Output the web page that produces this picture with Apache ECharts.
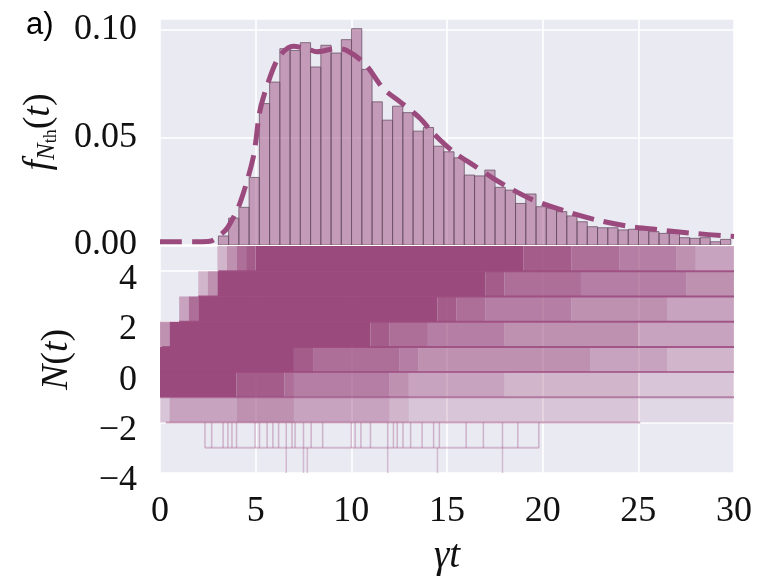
<!DOCTYPE html>
<html><head><meta charset="utf-8">
<script src="https://cdn.jsdelivr.net/npm/echarts@6/dist/echarts.min.js"></script>
<style>html,body{margin:0;padding:0;background:#fff}#c{width:757px;height:577px}</style>
</head><body><div id="c"></div>
<script>
// ---------- data ----------
const xTicks = [0, 5, 10, 15, 20, 25, 30];
const fTicks = [0, 0.05, 0.10];
const nTicks = [-4, -2, 0, 2, 4];

// histogram of first-passage times (50 bins)
const histStart = 3.05;
const histBinWidth = 0.5356;
const histHeights = [0.0042, 0.0125, 0.0175, 0.0314, 0.0657, 0.0757, 0.0912, 0.0904, 0.0940, 0.0827,
  0.0928, 0.0892, 0.0954, 0.1005, 0.0816, 0.0665, 0.0580, 0.0645, 0.0615, 0.0529,
  0.0546, 0.0459, 0.0433, 0.0405, 0.0325, 0.0321, 0.0348, 0.0268, 0.0255, 0.0193,
  0.0237, 0.0178, 0.0172, 0.0155, 0.0135, 0.0108, 0.0085, 0.0080, 0.0080, 0.0070,
  0.0073, 0.0070, 0.0062, 0.0054, 0.0054, 0.0034, 0.0031, 0.0034, 0.0015, 0.0026];

// theoretical density (dashed curve)
const curveT = [0, 1, 2, 2.6, 3.14, 3.55, 4.18, 4.88, 5.23, 5.75, 6.27, 6.97, 7.67, 8.2, 9.2, 9.76,
  10.7, 11.67, 12.55, 13.6, 14.29, 15.33, 16.38, 17.42, 18.47, 19.51, 21.26, 22.83, 24.4, 26.14, 27.88, 29.45, 30];
const curveF = [0.0015, 0.0015, 0.0015, 0.0017, 0.0046, 0.0083, 0.0195, 0.041, 0.0626, 0.078, 0.088, 0.0923,
  0.0912, 0.0898, 0.0912, 0.0904, 0.0843, 0.0727, 0.0665, 0.0588, 0.0518, 0.0433, 0.0371, 0.031, 0.0255,
  0.0209, 0.0155, 0.0116, 0.0088, 0.007, 0.0054, 0.0043, 0.004];

// trajectory density between level k and k+1, one digit (0-9) per 0.5 time bin
const bandBinWidth = 0.5;
const bandLevels = [4, 3, 2, 1, 0, -1, -2];
const bandDensity = [
  "000000357899999999999999999999999999998888877777666666554444",
  "000035999999999999999999999999999988777777776666666666655555",
  "004799999999999999999999999998877766666666655555555554444444",
  "599999999999999999999988777766666666555555555555554444444444",
  "999999999999998877777777766555555555555555555444444443333333",
  "999999998888876666666666554444444444333333333333332222222222",
  "244444445555554444444444332222222222222222222222221111111111"
];

// occupied integer levels: [level, tStart, tEnd, weight]
const levelLines = [
  [4, 3.05, 30, 0.9], [3, 2.0, 30, 0.9], [2, 1.0, 30, 0.9], [1, 0.1, 30, 0.85],
  [0, 0, 30, 0.75], [-1, 0, 30, 0.6], [-2, 0.3, 25.1, 0.45], [-3, 2.35, 19.8, 0.3]
];
// individual jumps in sparse bands
const jumpsBandM3 = [2.35, 2.7, 3.3, 3.55, 3.76, 4.0, 4.97, 5.2, 5.6, 5.9, 6.2, 6.6, 6.9, 7.06, 7.5, 7.9, 8.5,
  10.0, 10.2, 10.5, 11.0, 11.9, 12.2, 12.4, 12.7, 13.1, 13.7, 14.3, 14.6, 16.0, 16.9, 17.9, 18.7, 19.8];
const jumpsBandM4 = [6.6, 7.5, 7.7, 11.9, 14.5, 17.9];

// ---------- build ----------
const C = '#9b4a7e';
const serif = 'Liberation Serif';
const bandCells = [];
bandLevels.forEach((lv, k) => {
  const s = bandDensity[k];
  let i = 0;
  while (i < s.length) {
    let j = i;
    while (j < s.length && s[j] === s[i]) j++;
    const d = +s[i];
    if (d > 0) bandCells.push([i * bandBinWidth, j * bandBinWidth, lv, d / 9]);
    i = j;
  }
});
const jumpData = jumpsBandM3.map(t => [t, -3, 0.35]).concat(jumpsBandM4.map(t => [t, -4, 0.3]));
const histData = histHeights.map((h, i) => [histStart + i * histBinWidth, histStart + (i + 1) * histBinWidth, h]);

const fmtN = v => nTicks.includes(v) ? (v < 0 ? '\u2212' + (-v) : '' + v) : '';
const fmtF = v => fTicks.some(t => Math.abs(t - v) < 1e-9) ? v.toFixed(2) : '';
const fmtX = v => xTicks.includes(v) ? '' + v : '';

const tickFont = { fontFamily: serif, fontSize: 36, color: '#111' };
const chart = echarts.init(document.getElementById('c'), null, { renderer: 'canvas' });
chart.setOption({
  animation: false,
  title: { text: 'a)', left: 21, top: 5, textStyle: { fontFamily: 'Liberation Sans', fontSize: 31, fontWeight: 'normal', color: '#000' } },
  grid: [
    { left: 160, right: 23, top: 19, height: 226, show: true, backgroundColor: '#eaeaf2', borderWidth: 0 },
    { left: 160, right: 23, top: 246, height: 227, show: true, backgroundColor: '#eaeaf2', borderWidth: 0 }
  ],
  xAxis: [
    { gridIndex: 0, type: 'value', min: 0, max: 30, interval: 5,
      axisLine: { show: false }, axisTick: { show: false }, axisLabel: { show: false },
      splitLine: { lineStyle: { color: '#fff', width: 1.6 } } },
    { gridIndex: 1, type: 'value', min: 0, max: 30, interval: 5,
      axisLine: { show: false }, axisTick: { show: false },
      axisLabel: Object.assign({ margin: 21, formatter: fmtX }, tickFont),
      splitLine: { lineStyle: { color: '#fff', width: 1.6 } },
      name: '{i|\u03b3t}', nameLocation: 'middle', nameGap: 64,
      nameTextStyle: { rich: { i: { fontFamily: serif, fontStyle: 'italic', fontSize: 39, color: '#111' } } } }
  ],
  yAxis: [
    { gridIndex: 0, type: 'value', min: 0, max: 0.105, interval: 0.05,
      axisLine: { show: false }, axisTick: { show: false },
      axisLabel: Object.assign({ margin: 23, formatter: fmtF }, tickFont),
      splitLine: { lineStyle: { color: '#fff', width: 1.6 } },
      name: '{i|f}{s|N}{ss|th}{n|(}{i|t}{n|)}', nameLocation: 'middle', nameGap: 100, nameRotate: 90,
      nameTextStyle: { rich: {
        i: { fontFamily: serif, fontStyle: 'italic', fontSize: 38, lineHeight: 42, color: '#111' },
        n: { fontFamily: serif, fontSize: 38, lineHeight: 42, color: '#111' },
        s: { fontFamily: serif, fontStyle: 'italic', fontSize: 25, lineHeight: 16, verticalAlign: 'bottom', color: '#111' },
        ss: { fontFamily: serif, fontSize: 18, lineHeight: 8, verticalAlign: 'bottom', color: '#111' }
      } } },
    { gridIndex: 1, type: 'value', min: -4, max: 5, interval: 2,
      axisLine: { show: false }, axisTick: { show: false },
      axisLabel: Object.assign({ margin: 23, formatter: fmtN, verticalAlign: 'top', lineHeight: 16 }, tickFont),
      splitLine: { lineStyle: { color: '#fff', width: 1.6 } },
      name: '{i|N}{n|(}{i|t}{n|)}', nameLocation: 'middle', nameGap: 84, nameRotate: 90,
      nameTextStyle: { rich: {
        i: { fontFamily: serif, fontStyle: 'italic', fontSize: 38, color: '#111' },
        n: { fontFamily: serif, fontSize: 38, color: '#111' }
      } } }
  ],
  series: [
    { type: 'custom', name: 'hist', xAxisIndex: 0, yAxisIndex: 0, data: histData, encode: { x: [0, 1], y: 2 }, clip: true,
      renderItem: (p, api) => {
        const a = api.coord([api.value(0), api.value(2)]);
        const b = api.coord([api.value(1), 0]);
        return { type: 'rect', shape: { x: a[0], y: a[1], width: b[0] - a[0], height: b[1] - a[1] },
          style: { fill: 'rgba(155,74,126,0.5)', stroke: 'rgba(100,78,98,0.75)', lineWidth: 1 } };
      } },
    { type: 'line', name: 'theory', xAxisIndex: 0, yAxisIndex: 0, data: curveT.map((t, i) => [t, curveF[i]]),
      showSymbol: false, smooth: 0.3, clip: true,
      lineStyle: { color: C, width: 5, type: [22, 10], cap: 'butt' } },
    { type: 'custom', name: 'bands', xAxisIndex: 1, yAxisIndex: 1, data: bandCells, encode: { x: [0, 1], y: 2 }, clip: true,
      renderItem: (p, api) => {
        const a = api.coord([api.value(0), api.value(2) + 1]);
        const b = api.coord([api.value(1), api.value(2)]);
        return { type: 'rect', shape: { x: a[0], y: a[1], width: b[0] - a[0], height: b[1] - a[1] },
          style: { fill: C, opacity: api.value(3) } };
      } },
    { type: 'custom', name: 'jumps', xAxisIndex: 1, yAxisIndex: 1, data: jumpData, encode: { x: 0, y: 1 }, clip: true,
      renderItem: (p, api) => {
        const a = api.coord([api.value(0), api.value(1) + 1]);
        const b = api.coord([api.value(0), api.value(1)]);
        return { type: 'line', shape: { x1: a[0], y1: a[1], x2: b[0], y2: b[1] },
          style: { stroke: C, lineWidth: 1.5, opacity: api.value(2) } };
      } },
    { type: 'custom', name: 'levels', xAxisIndex: 1, yAxisIndex: 1,
      data: levelLines.map(r => [r[1], r[2], r[0], r[3]]), encode: { x: [0, 1], y: 2 }, clip: true,
      renderItem: (p, api) => {
        const a = api.coord([api.value(0), api.value(2)]);
        const b = api.coord([api.value(1), api.value(2)]);
        return { type: 'line', shape: { x1: a[0], y1: a[1], x2: b[0], y2: b[1] },
          style: { stroke: C, lineWidth: 2, opacity: api.value(3) } };
      } }
  ]
});
</script></body></html>
